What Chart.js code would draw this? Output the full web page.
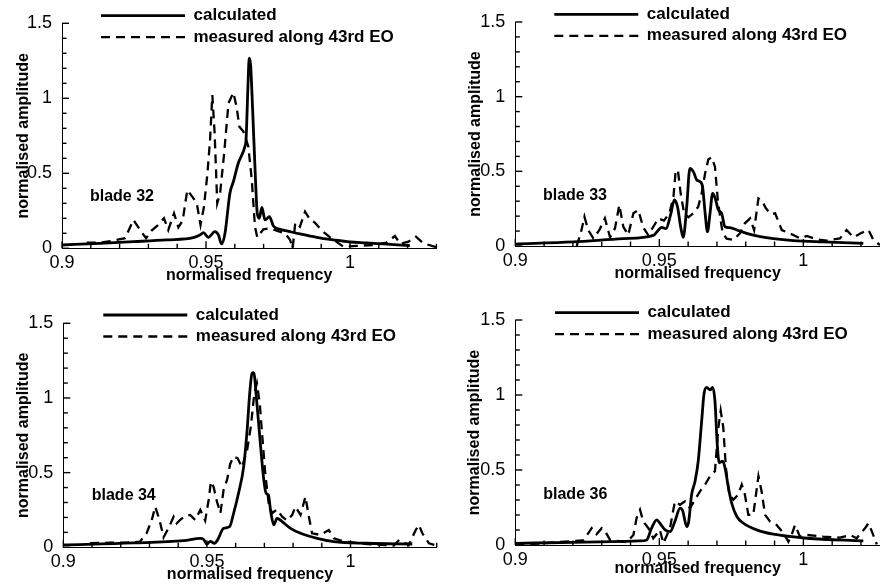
<!DOCTYPE html>
<html>
<head>
<meta charset="utf-8">
<script src="https://cdn.jsdelivr.net/npm/chart.js@4.4.1/dist/chart.umd.min.js"></script>
<style>
  body { margin: 0; background: #fff; }
  #wrap { position: relative; width: 880px; height: 586px; overflow: hidden; }
  #wrap canvas { position: absolute; }
</style>
</head>
<body>
<div id="wrap">
  <canvas id="blade32" width="440" height="293" style="left:0;top:0"></canvas>
  <canvas id="blade33" width="440" height="293" style="left:440px;top:0"></canvas>
  <canvas id="blade34" width="440" height="293" style="left:0;top:293px"></canvas>
  <canvas id="blade36" width="440" height="293" style="left:440px;top:293px"></canvas>
</div>
<script>
// [normalised frequency, normalised amplitude]
const calc32 = [[0.9,0.022],[0.9132,0.033],[0.9248,0.044],[0.9363,0.056],[0.9456,0.071],[0.9479,0.089],[0.9491,0.104],[0.9508,0.073],[0.9531,0.111],[0.9543,0.089],[0.9554,0.029],[0.9566,0.1],[0.9583,0.367],[0.9595,0.444],[0.9612,0.567],[0.9635,0.678],[0.9639,0.722],[0.9646,1.1],[0.965,1.267],[0.9655,1.22],[0.9662,0.92],[0.967,0.544],[0.9678,0.233],[0.9685,0.2],[0.9694,0.273],[0.9705,0.189],[0.972,0.211],[0.9734,0.149],[0.9757,0.127],[0.9792,0.111],[0.9826,0.096],[0.9884,0.073],[0.9942,0.056],[1.0,0.042],[1.0058,0.036],[1.0116,0.029],[1.0208,0.018]];
const meas32 = [[0.9086,0.038],[0.9132,0.038],[0.9178,0.051],[0.9219,0.067],[0.9248,0.189],[0.9271,0.122],[0.9292,0.067],[0.9311,0.118],[0.9334,0.156],[0.9354,0.2],[0.9369,0.122],[0.9389,0.233],[0.9404,0.14],[0.9419,0.184],[0.9435,0.389],[0.9454,0.34],[0.9468,0.3],[0.9481,0.156],[0.9493,0.278],[0.9505,0.5],[0.9514,0.722],[0.9522,1.022],[0.953,0.767],[0.9539,0.3],[0.9549,0.367],[0.9563,0.633],[0.9578,0.967],[0.9595,1.038],[0.9606,0.944],[0.9616,0.811],[0.963,0.778],[0.9647,0.678],[0.9659,0.456],[0.967,0.144],[0.9678,0.073],[0.9699,0.127],[0.9722,0.133],[0.9745,0.118],[0.9774,0.1],[0.9792,0.056],[0.9801,0.0],[0.981,0.171],[0.9826,0.144],[0.9844,0.244],[0.9861,0.193],[0.9878,0.171],[0.9902,0.118],[0.9931,0.073],[0.9977,0.011],[1.0023,0.016],[1.0081,0.022],[1.0127,0.038],[1.0156,0.082],[1.0174,0.029],[1.0203,0.044],[1.0229,0.078],[1.0255,0.033],[1.0301,0.007]];

const calc33 = [[0.9,0.013],[0.9201,0.027],[0.9375,0.049],[0.9479,0.071],[0.9497,0.107],[0.9508,0.125],[0.9523,0.116],[0.9539,0.208],[0.9552,0.308],[0.9563,0.263],[0.9574,0.129],[0.9583,0.058],[0.9595,0.263],[0.9606,0.52],[0.9618,0.498],[0.963,0.442],[0.9641,0.431],[0.965,0.397],[0.9659,0.219],[0.9667,0.096],[0.9676,0.219],[0.9685,0.353],[0.9694,0.319],[0.9705,0.241],[0.9716,0.219],[0.9728,0.129],[0.9745,0.123],[0.9769,0.107],[0.9803,0.085],[0.985,0.063],[0.9896,0.049],[0.9965,0.036],[1.0069,0.027],[1.0208,0.018]];
const meas33 = [[0.9213,0.0],[0.9227,0.085],[0.924,0.196],[0.9253,0.107],[0.9271,0.051],[0.9292,0.107],[0.9311,0.185],[0.9329,0.058],[0.9346,0.118],[0.9361,0.275],[0.9375,0.129],[0.9392,0.074],[0.941,0.219],[0.9427,0.241],[0.9444,0.125],[0.9462,0.071],[0.9479,0.129],[0.9497,0.185],[0.9516,0.17],[0.9535,0.219],[0.9549,0.33],[0.9557,0.509],[0.9565,0.498],[0.9574,0.353],[0.9586,0.219],[0.9601,0.192],[0.9618,0.219],[0.9635,0.263],[0.9647,0.353],[0.9659,0.487],[0.967,0.58],[0.9682,0.594],[0.9693,0.531],[0.9703,0.308],[0.9711,0.196],[0.972,0.085],[0.9734,0.049],[0.9757,0.04],[0.978,0.085],[0.9797,0.152],[0.9815,0.185],[0.9829,0.107],[0.9844,0.319],[0.9856,0.304],[0.987,0.252],[0.9887,0.214],[0.9902,0.219],[0.9925,0.107],[0.9965,0.074],[0.9988,0.051],[1.0012,0.067],[1.0046,0.045],[1.0081,0.036],[1.0127,0.051],[1.015,0.107],[1.0174,0.058],[1.0199,0.085],[1.0226,0.107],[1.0243,0.04],[1.0266,0.007]];

const calc34 = [[0.9,0.016],[0.9244,0.029],[0.9419,0.045],[0.9477,0.06],[0.9488,0.054],[0.95,0.022],[0.9512,0.04],[0.9526,0.027],[0.9537,0.049],[0.9558,0.127],[0.9579,0.138],[0.9593,0.228],[0.961,0.362],[0.9628,0.54],[0.964,0.786],[0.9649,1.031],[0.9657,1.165],[0.9663,1.17],[0.9672,1.009],[0.9684,0.741],[0.9698,0.451],[0.9706,0.362],[0.9714,0.35],[0.9723,0.228],[0.9733,0.15],[0.9744,0.194],[0.9762,0.172],[0.9791,0.127],[0.9826,0.094],[0.9884,0.06],[0.9942,0.038],[1.0058,0.027],[1.0215,0.022]];
const meas34 = [[0.9093,0.027],[0.9163,0.031],[0.9221,0.031],[0.9267,0.038],[0.929,0.094],[0.9308,0.183],[0.932,0.272],[0.9335,0.183],[0.9349,0.067],[0.9366,0.127],[0.9384,0.205],[0.9395,0.161],[0.9407,0.183],[0.9424,0.21],[0.9442,0.217],[0.9459,0.183],[0.9477,0.25],[0.9494,0.179],[0.9506,0.317],[0.9514,0.44],[0.9523,0.406],[0.9535,0.306],[0.9547,0.228],[0.9558,0.384],[0.957,0.451],[0.9581,0.558],[0.9593,0.607],[0.9607,0.596],[0.9622,0.536],[0.964,0.652],[0.9653,0.808],[0.9665,1.031],[0.9674,1.098],[0.9684,0.964],[0.9692,0.763],[0.9703,0.496],[0.9715,0.295],[0.9727,0.228],[0.9744,0.254],[0.9762,0.205],[0.9779,0.179],[0.9797,0.217],[0.9808,0.272],[0.9826,0.217],[0.9843,0.339],[0.9855,0.205],[0.9866,0.094],[0.9895,0.083],[0.9924,0.116],[0.9942,0.06],[0.9977,0.038],[1.0058,0.022],[1.0151,0.011],[1.0169,0.049],[1.0203,0.016],[1.0227,0.116],[1.0238,0.15],[1.025,0.094],[1.0273,0.027],[1.0302,0.011]];

const calc36 = [[0.9,0.011],[0.9201,0.018],[0.9433,0.027],[0.9456,0.034],[0.9473,0.112],[0.9491,0.168],[0.9502,0.145],[0.952,0.101],[0.9537,0.089],[0.9554,0.157],[0.9572,0.246],[0.9581,0.228],[0.9595,0.123],[0.9602,0.157],[0.9612,0.336],[0.9624,0.425],[0.9635,0.559],[0.9647,0.828],[0.9655,1.007],[0.9664,1.051],[0.9676,1.034],[0.9685,1.051],[0.9693,0.962],[0.9701,0.671],[0.9708,0.548],[0.972,0.559],[0.9728,0.515],[0.974,0.38],[0.9751,0.28],[0.9769,0.19],[0.9792,0.145],[0.9838,0.101],[0.9896,0.072],[1.0012,0.045],[1.0208,0.027]];
const meas36 = [[0.9,0.004],[0.9086,0.009],[0.9201,0.027],[0.9236,0.031],[0.9253,0.078],[0.9265,0.112],[0.9282,0.072],[0.93,0.112],[0.9311,0.094],[0.9329,0.034],[0.9352,0.027],[0.9387,0.018],[0.941,0.067],[0.9421,0.179],[0.9433,0.235],[0.9444,0.157],[0.9462,0.112],[0.9479,0.045],[0.9502,0.101],[0.9514,0.011],[0.9537,0.112],[0.9554,0.291],[0.9572,0.268],[0.9589,0.291],[0.9606,0.246],[0.9624,0.302],[0.9641,0.358],[0.9659,0.403],[0.9676,0.459],[0.9693,0.492],[0.9705,0.783],[0.9713,0.895],[0.9722,0.783],[0.9731,0.515],[0.9743,0.336],[0.9757,0.302],[0.9774,0.336],[0.9786,0.403],[0.9797,0.336],[0.9809,0.201],[0.9826,0.201],[0.9844,0.459],[0.9855,0.358],[0.9867,0.201],[0.9884,0.157],[0.9907,0.134],[0.9931,0.078],[0.9948,0.022],[0.9959,0.067],[0.9971,0.134],[0.9988,0.056],[1.0012,0.067],[1.0069,0.056],[1.0127,0.049],[1.0162,0.067],[1.0185,0.045],[1.0214,0.112],[1.0226,0.145],[1.0238,0.089],[1.0255,0.004]];

const seriesNames = ['calculated', 'measured along 43rd EO'];
const bladeNames = ['blade 32', 'blade 33', 'blade 34', 'blade 36'];
const xMajorTicks = [0.9, 0.95, 1];
const yMajorTicks = [0, 0.5, 1, 1.5];
const xMinorStep = 0.01, yMinorStep = 0.1;
const xMin = 0.9, yMin = 0, yMax = 1.5;

const FONT = '"Liberation Sans", Arial, Helvetica, sans-serif';
Chart.defaults.font.family = FONT;
Chart.defaults.color = '#000';

// where each panel sits inside its 440x293 canvas
const panels = [
  { id: 'blade32', name: bladeNames[0], calc: calc32, meas: meas32, left: 62, top: 23.3, bottom: 248.3, right: 436.4, xMax: 1.03,
    yTitleX: 24, xTitleY: 276, legendX: 101, legendY: 15.7, labelAt: [0.9097, 0.344] },
  { id: 'blade33', name: bladeNames[1], calc: calc33, meas: meas33, left: 75.3, top: 22, bottom: 246, right: 440, xMax: 1.0266,
    yTitleX: 36, xTitleY: 274, legendX: 114.3, legendY: 14.3, labelAt: [0.9096, 0.34] },
  { id: 'blade34', name: bladeNames[2], calc: calc34, meas: meas34, left: 63.3, top: 30.3, bottom: 254.3, right: 436.7, xMax: 1.03,
    yTitleX: 24, xTitleY: 281.5, legendX: 103.3, legendY: 22, labelAt: [0.9099, 0.345] },
  { id: 'blade36', name: bladeNames[3], calc: calc36, meas: meas36, left: 75.3, top: 27, bottom: 252, right: 440, xMax: 1.0266,
    yTitleX: 35, xTitleY: 276, legendX: 115, legendY: 19.7, labelAt: [0.9097, 0.335] }
];

// legend sits inside the plot, moved to where the figure has it
const legendPlacer = {
  id: 'legendPlacer',
  afterLayout(chart, args, opts) {
    const lg = chart.legend;
    const pad = lg.options.labels.padding;
    const half = lg.options.labels.font.size / 2;
    lg.left = opts.x - pad;
    lg.top = opts.y - half - pad;
    lg.right = chart.width;
    lg.bottom = chart.height;
    lg.width = lg.right - lg.left;
    lg.height = lg.bottom - lg.top;
  }
};

// tecplot style: tick marks point into the plot, short minor ones in between
const innerTicks = {
  id: 'innerTicks',
  afterDraw(chart, args, opts) {
    const { ctx, chartArea: a, scales: { x, y } } = chart;
    ctx.save();
    ctx.setLineDash([]);
    ctx.strokeStyle = '#000';
    ctx.lineWidth = opts.width;
    const mark = (x1, y1, x2, y2) => { ctx.beginPath(); ctx.moveTo(x1, y1); ctx.lineTo(x2, y2); ctx.stroke(); };
    for (let v = xMin; v <= x.max + 1e-9; v += xMinorStep) {
      const major = xMajorTicks.some(t => Math.abs(t - v) < 1e-6);
      const px = x.getPixelForValue(v);
      mark(px, a.bottom, px, a.bottom - (major ? opts.major : opts.minor));
    }
    for (let v = yMin; v <= yMax + 1e-9; v += yMinorStep) {
      const major = yMajorTicks.some(t => Math.abs(t - v) < 1e-6);
      const py = y.getPixelForValue(v);
      mark(a.left, py, a.left + (major ? opts.major : opts.minor), py);
    }
    ctx.restore();
  }
};

// "blade NN" note inside the plot
const bladeLabel = {
  id: 'bladeLabel',
  afterDatasetsDraw(chart, args, opts) {
    const { ctx, scales: { x, y } } = chart;
    ctx.save();
    ctx.font = 'bold 16px ' + FONT;
    ctx.fillStyle = '#000';
    ctx.textAlign = 'left';
    ctx.textBaseline = 'middle';
    ctx.fillText(opts.text, x.getPixelForValue(opts.at[0]), y.getPixelForValue(opts.at[1]));
    ctx.restore();
  }
};

function buildChart(p) {
  const W = 440, H = 293;
  const titleFont = { size: 16, weight: 'bold' };
  const tickFont = { size: 18 };

  return new Chart(document.getElementById(p.id), {
    type: 'line',
    data: {
      datasets: [
        { label: seriesNames[0], data: p.calc.map(([x, y]) => ({ x, y })), borderColor: '#000', borderWidth: 2.8,
          pointRadius: 0, cubicInterpolationMode: 'monotone' },
        { label: seriesNames[1], data: p.meas.map(([x, y]) => ({ x, y })), borderColor: '#000', borderWidth: 2.3,
          borderDash: [9, 6], pointRadius: 0, tension: 0 }
      ]
    },
    options: {
      responsive: false,
      animation: false,
      devicePixelRatio: 1,
      layout: { padding: { left: 0, top: p.top, right: W - p.right, bottom: 0 } },
      plugins: {
        tooltip: { enabled: false },
        legend: {
          position: 'chartArea',
          align: 'start',
          labels: {
            usePointStyle: true, pointStyleWidth: 84, padding: 4.5, color: '#000',
            font: { size: 17, weight: 'bold' },
            generateLabels: chart => chart.data.datasets.map((ds, i) => ({
              text: ds.label, fillStyle: 'rgba(0,0,0,0)', strokeStyle: ds.borderColor, lineWidth: ds.borderWidth,
              lineDash: ds.borderDash || [], lineDashOffset: 0, lineCap: 'butt', pointStyle: 'line',
              fontColor: '#000', hidden: false, datasetIndex: i
            }))
          }
        },
        legendPlacer: { x: p.legendX, y: p.legendY },
        innerTicks: { major: 7, minor: 4.5, width: 1.4 },
        bladeLabel: { text: p.name, at: p.labelAt }
      },
      scales: {
        x: {
          type: 'linear', position: 'bottom', min: xMin, max: p.xMax,
          afterBuildTicks: s => { s.ticks = xMajorTicks.map(v => ({ value: v })); },
          afterFit: s => { s.height = H - p.bottom; s.paddingLeft = 0; s.paddingRight = 0; },
          ticks: { autoSkip: false, maxRotation: 0, padding: 4.4, font: tickFont, color: '#000', callback: v => String(v) },
          grid: { drawOnChartArea: false, drawTicks: false },
          border: { display: true, color: '#000', width: 1 },
          title: { display: true, text: 'normalised frequency', color: '#000', font: titleFont,
                   padding: { top: 0, bottom: H - 9.6 - p.xTitleY } }
        },
        y: {
          type: 'linear', position: 'left', min: yMin, max: yMax,
          afterBuildTicks: s => { s.ticks = yMajorTicks.map(v => ({ value: v })); },
          afterFit: s => { s.width = p.left; s.paddingTop = 0; s.paddingBottom = 0; },
          ticks: { autoSkip: false, padding: 10, font: tickFont, color: '#000', callback: v => String(v) },
          grid: { drawOnChartArea: false, drawTicks: false },
          border: { display: true, color: '#000', width: 1 },
          title: { display: true, text: 'normalised amplitude', color: '#000', font: titleFont,
                   padding: { top: p.yTitleX - 9.6, bottom: 0 } }
        }
      }
    },
    plugins: [legendPlacer, innerTicks, bladeLabel]
  });
}

panels.forEach(buildChart);
</script>
</body>
</html>
